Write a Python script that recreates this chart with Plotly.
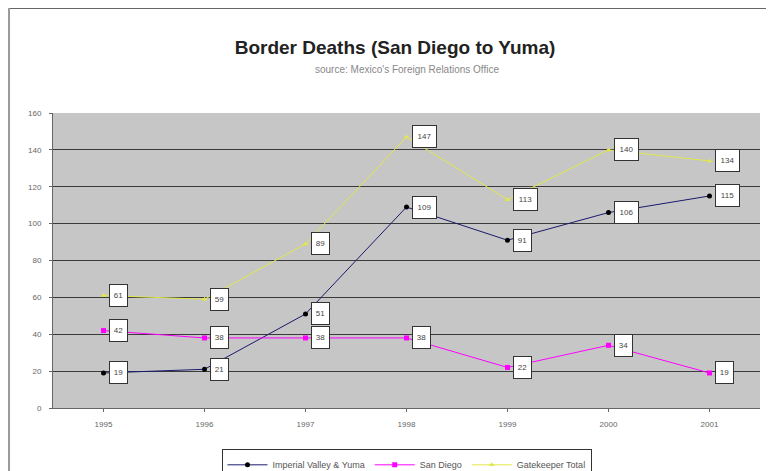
import plotly.graph_objects as go

years = ["1995", "1996", "1997", "1998", "1999", "2000", "2001"]
imperial = [19, 21, 51, 109, 91, 106, 115]
san_diego = [42, 38, 38, 38, 22, 34, 19]
gatekeeper = [61, 59, 89, 147, 113, 140, 134]
y_ticks = [0, 20, 40, 60, 80, 100, 120, 140, 160]

series = [
    ("Imperial Valley & Yuma", imperial, "#1a1a6e", "#000000", "circle"),
    ("San Diego", san_diego, "#ff00ff", "#ff00ff", "square"),
    ("Gatekeeper Total", gatekeeper, "#e2e84a", "#e2e84a", "triangle-up"),
]

fig = go.Figure()
for name, vals, lc, mc, sym in series:
    fig.add_trace(go.Scatter(
        x=years, y=vals, name=name, mode="lines+markers",
        line=dict(color=lc, width=1),
        marker=dict(color=mc, size=5, symbol=sym),
    ))

annotations = []
for name, vals, lc, mc, sym in series:
    for i, v in enumerate(vals):
        s = str(v)
        annotations.append(dict(
            x=i, y=v, xref="x", yref="y", text=s, showarrow=False,
            xanchor="left", yanchor="middle", xshift=5,
            width=6 * len(s) + 1, height=17, align="center",
            font=dict(size=8, color="#444444", family="Arial"),
            bgcolor="white", bordercolor="#333333", borderwidth=1, borderpad=2,
        ))

annotations.append(dict(
    x=0.5, y=1.149, xref="paper", yref="paper", xanchor="center", yanchor="middle",
    text="source: Mexico's Foreign Relations Office", showarrow=False,
    font=dict(size=10, color="#888888", family="Arial"),
))

fig.update_layout(
    width=774, height=471,
    margin=dict(l=45, r=22, t=105, b=71, autoexpand=False),
    paper_bgcolor="white",
    plot_bgcolor="#c6c6c6",
    title=dict(text="<b>Border Deaths (San Diego to Yuma)</b>", x=0.5, xanchor="center",
               y=0.917, yanchor="middle", yref="container",
               font=dict(size=19, color="#222222", family="Arial")),
    xaxis=dict(type="category", range=[-0.5, 6.5], showgrid=False,
               showline=True, linecolor="#666666", linewidth=1,
               ticks="outside", ticklen=3, tickcolor="#666666", ticklabelstandoff=5,
               tickfont=dict(size=8, color="#666666", family="Arial")),
    yaxis=dict(range=[0, 160], tickvals=y_ticks, showgrid=True, gridcolor="#3a3a3a",
               gridwidth=1, showline=True, linecolor="#666666", linewidth=1,
               ticks="outside", ticklen=3, tickcolor="#666666", zeroline=False,
               ticklabelstandoff=6,
               tickfont=dict(size=8, color="#666666", family="Arial")),
    legend=dict(orientation="h", x=0.5, xanchor="center", y=0.063, yanchor="top",
                yref="container",
                bgcolor="white", bordercolor="#333333", borderwidth=1,
                font=dict(size=9, color="#555555", family="Arial"),
                itemwidth=40),
    annotations=annotations,
    showlegend=True,
    shapes=[
        dict(type="line", xref="paper", yref="paper", x0=-0.0622, x1=1.05, y0=1.356, y1=1.356,
             line=dict(color="#666666", width=2)),
        dict(type="line", xref="paper", yref="paper", x0=-0.0622, x1=-0.0622, y0=-0.3, y1=1.356,
             line=dict(color="#999999", width=2)),
    ],
)

fig.write_html("out.html")
